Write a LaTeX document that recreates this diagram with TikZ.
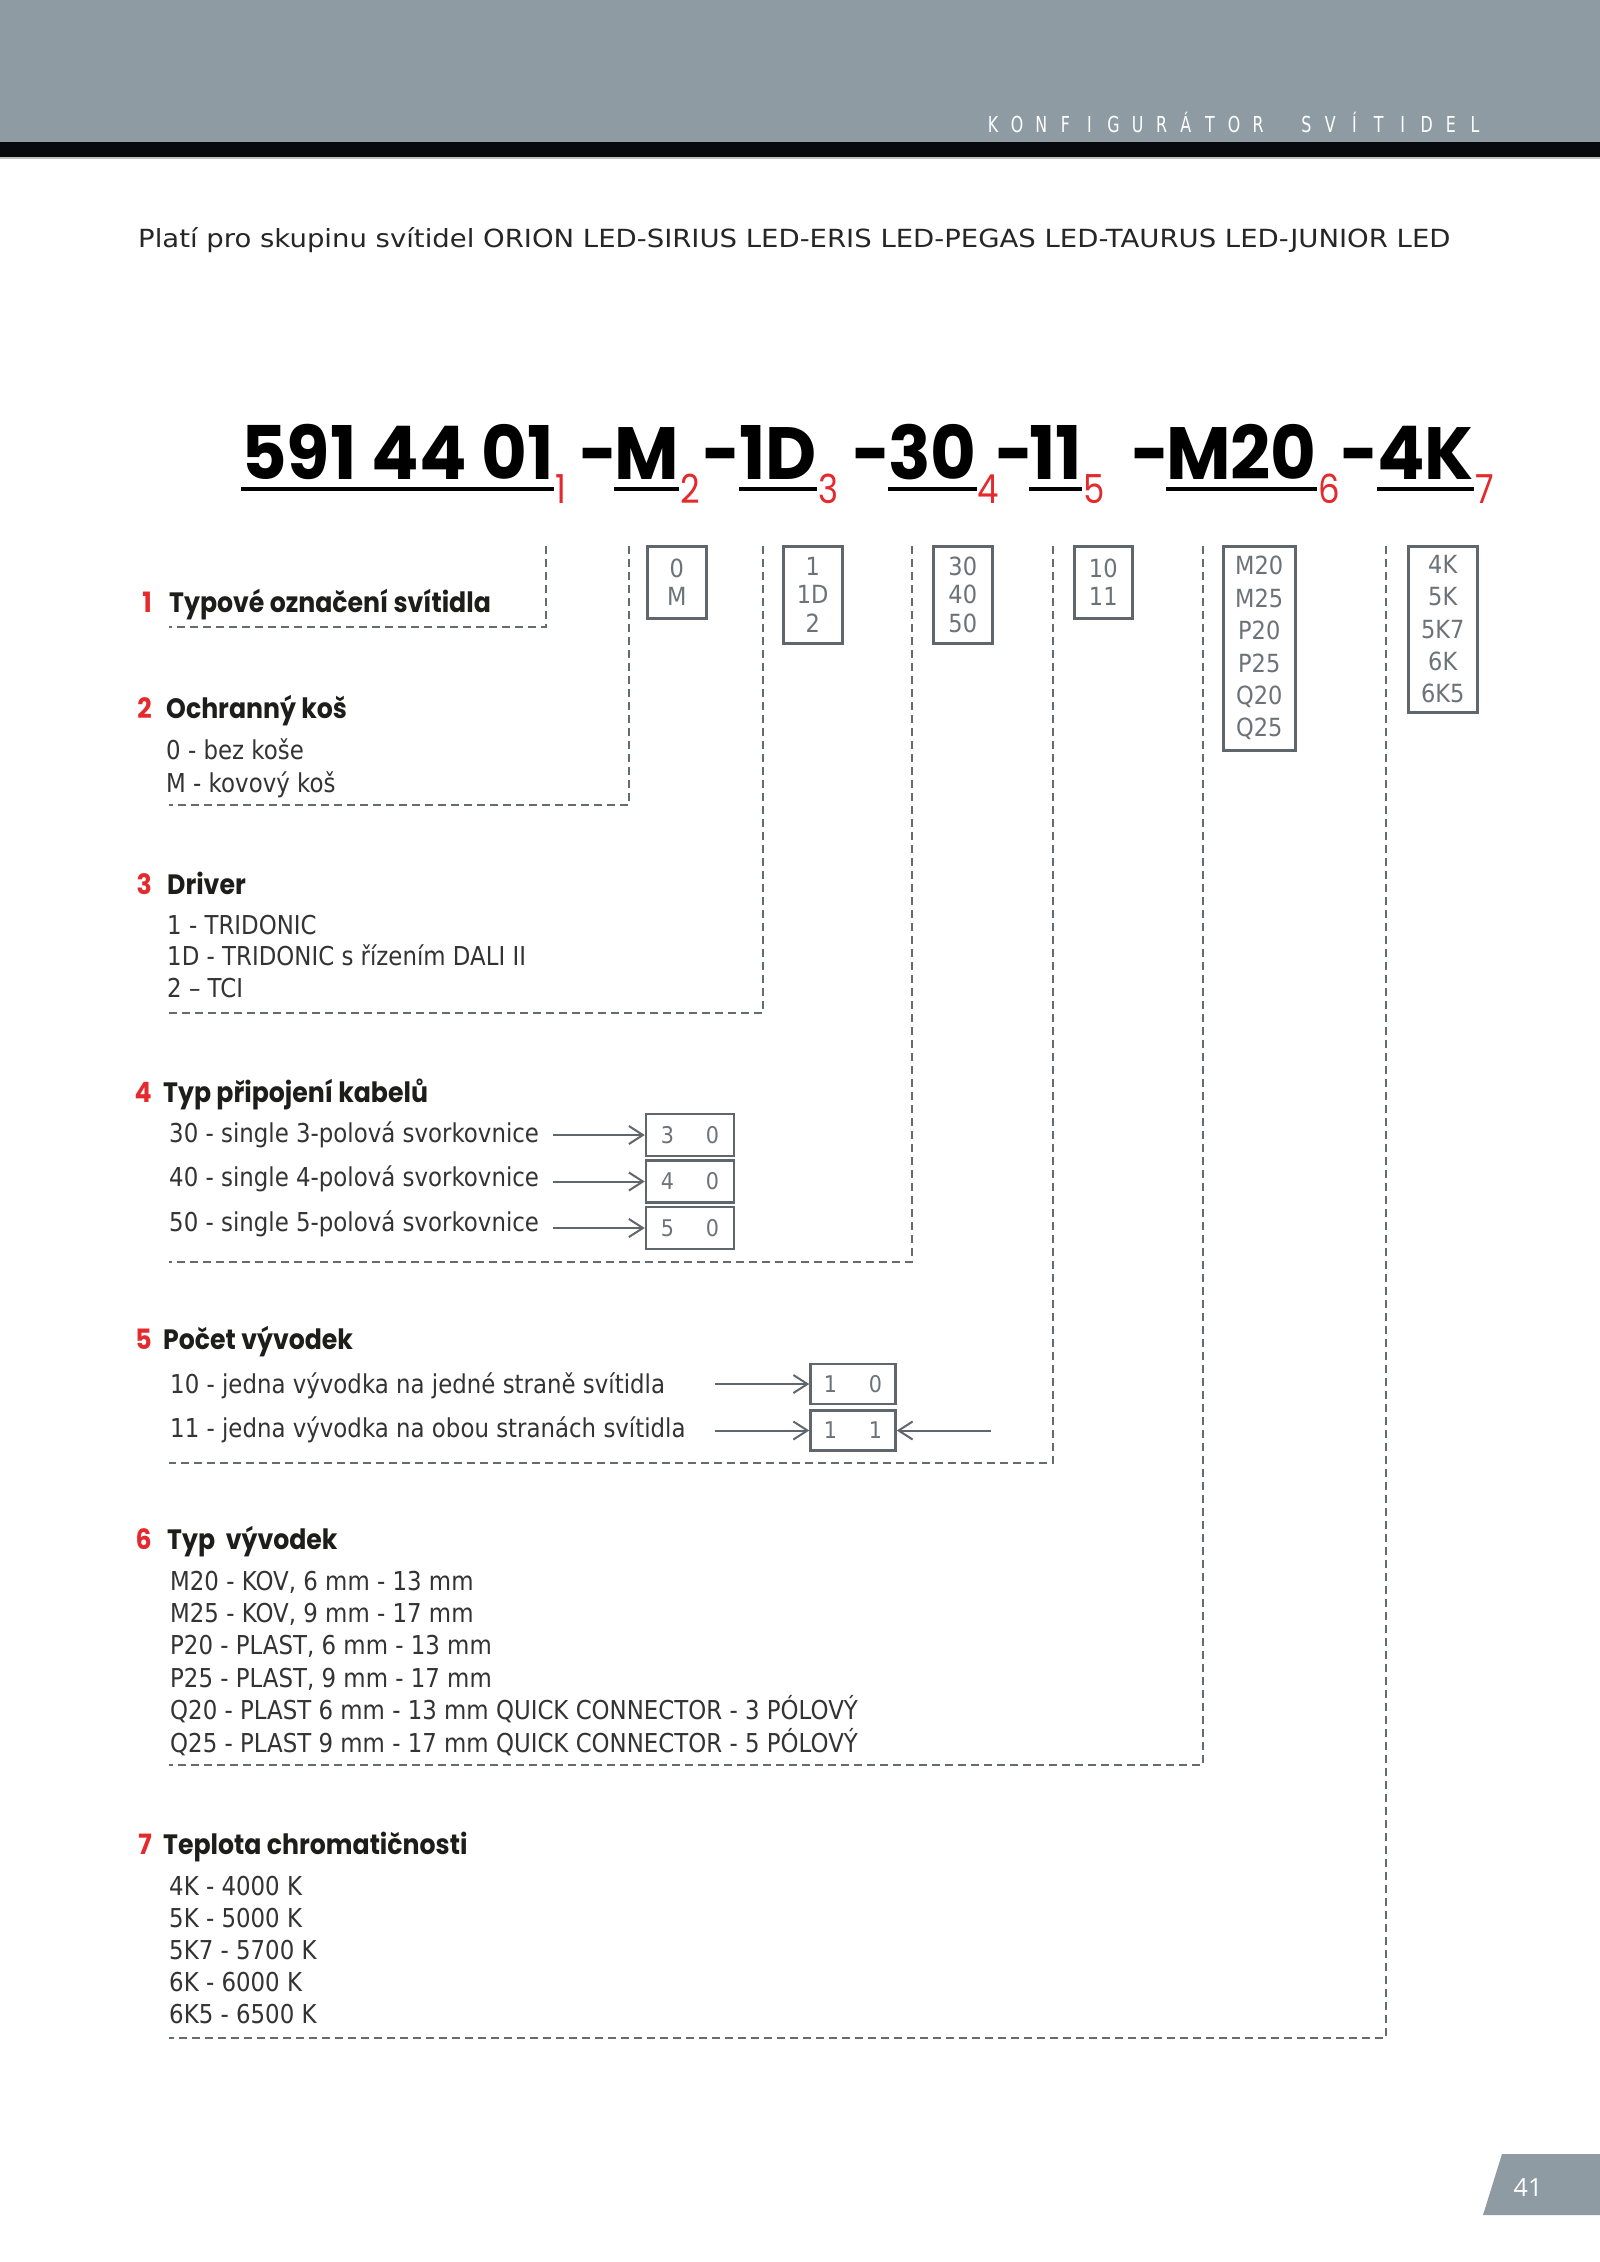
\documentclass[tikz,border=0pt]{standalone}
\usepackage{fontspec}
\setmainfont[FakeStretch=0.88]{DejaVu Sans}
\newfontfamily\bodyfont[FakeStretch=0.88]{DejaVu Sans}
\newfontfamily\valfont[FakeStretch=0.9]{DejaVu Sans}
\newfontfamily\titlefont[FakeStretch=1.1]{DejaVu Sans}
\newfontfamily\headfont[FakeStretch=0.9]{Poppins}
\newfontfamily\codefont[FakeStretch=0.95]{Poppins}
\newfontfamily\dashfont[FakeStretch=0.7]{Poppins}
\newfontfamily\subfont[FakeStretch=0.85]{Poppins}
\newfontfamily\capsfont[FakeStretch=0.72]{DejaVu Sans}
\newfontfamily\pagefont{Open Sans}
\usetikzlibrary{positioning,arrows.meta}

\definecolor{bandgrey}{HTML}{8E9BA3}
\definecolor{barblack}{HTML}{08090D}
\definecolor{guidegrey}{HTML}{646B71}
\definecolor{boxgrey}{HTML}{5F666C}
\definecolor{valgrey}{HTML}{6B7379}
\definecolor{itemgrey}{HTML}{333333}
\definecolor{headblack}{HTML}{1D1D1B}
\definecolor{codered}{HTML}{E52A2E}

\begin{document}
\begin{tikzpicture}[x=1pt, y=-1pt,
    head/.style={anchor=base west, inner sep=0pt, text=headblack,
      font=\headfont\bfseries\fontsize{28}{32}\selectfont},
    num/.style={anchor=base east, inner sep=0pt, text=codered,
      font=\headfont\bfseries\fontsize{28}{32}\selectfont},
    item/.style={anchor=base west, inner sep=0pt, text=itemgrey,
      font=\bodyfont\fontsize{26}{30}\selectfont},
    code/.style={anchor=base west, inner sep=0pt, text=black,
      font=\codefont\bfseries\fontsize{74}{80}\selectfont},
    codedash/.style={anchor=base, inner sep=0pt, text=black,
      font=\dashfont\bfseries\fontsize{74}{80}\selectfont},
    sub/.style={anchor=base west, inner sep=0pt, text=codered,
      font=\subfont\fontsize{40}{44}\selectfont},
    uline/.style={line width=4.5pt, black},
    guide/.style={guidegrey, line width=2pt, dash pattern=on 8pt off 5pt},
    valbox/.style={draw=boxgrey, line width=2.5pt, anchor=north west, align=center,
      inner sep=0pt, text=valgrey, font=\valfont\fontsize{25}{28.5}\selectfont},
    cell/.style={draw=boxgrey, line width=2.5pt, minimum width=88pt, minimum height=42pt,
      inner sep=0pt, text=valgrey, font=\valfont\fontsize{23}{26}\selectfont},
    arr/.style={boxgrey, line width=2pt, -{Straight Barb[length=14pt, width=18pt]}},
  ]
  \useasboundingbox (0,0) rectangle (1600,2262);
  \fill[white] (0,0) rectangle (1600,2262);

  % header band
  \fill[bandgrey] (0,0) rectangle (1600,142);
  \fill[barblack] (0,142) rectangle (1600,157);
  \draw[black!25, line width=1.5pt] (0,158) -- (1600,158);
  \foreach \ch [count=\i from 0] in {K,O,N,F,I,G,U,R,Á,T,O,R,{},S,V,Í,T,I,D,E,L}
    \node[anchor=base, inner sep=0pt, text=white, font=\capsfont\fontsize{22}{24}\selectfont]
      (k\i) at ({993+24.1*\i},132) {\ch};

  \node[anchor=base west, inner sep=0pt, text=black!85, font=\titlefont\fontsize{25}{28}\selectfont]
    (title) at (138,247)
    {Platí pro skupinu svítidel ORION LED-SIRIUS LED-ERIS LED-PEGAS LED-TAURUS LED-JUNIOR LED};

  % code line
  \node[code] (c1) at (241,479) {591 44 01};
  \node[code] (c2) at (614,479) {M};
  \node[code] (c3) at (739,479) {1D};
  \node[code] (c4) at (888,479) {30};
  \node[code] (c5) at (1029,479) {11};
  \node[code] (c6) at (1166,479) {M20};
  \node[code] (c7) at (1377,479) {4K};
  \foreach \x [count=\i from 2] in {597,720,870,1013,1149,1358}
    \node[codedash] (d\i) at (\x,479) {–};
  \foreach \i in {1,...,7} {
    \draw[uline] ([yshift=-10pt]c\i.base west) -- ([yshift=-10pt]c\i.base east);
    \node[sub] (s\i) at ([shift={(1,24)}]c\i.base east) {\i};
  }

  % guide lines down to the sections
  \foreach \i/\x/\y in {1/546/627, 2/629/805, 3/763/1013, 4/912/1262,
                        5/1053/1463, 6/1203/1765, 7/1386/2038} {
    \coordinate (t\i) at (\x,546);
    \coordinate (e\i) at (169,\y);
    \draw[guide] (t\i) |- (e\i);
  }

  % value boxes
  \node[valbox, minimum width=59pt, minimum height=72pt] (v2) at (646,545) {0\\M};
  \node[valbox, minimum width=59pt, minimum height=97pt] (v3) at (782,545) {1\\1D\\2};
  \node[valbox, minimum width=59pt, minimum height=97pt] (v4) at (932,545) {30\\40\\50};
  \node[valbox, minimum width=58pt, minimum height=72pt] (v5) at (1073,545) {10\\11};
  \node[valbox, minimum width=72pt, minimum height=204pt,
    font=\valfont\fontsize{25}{32.4}\selectfont] (v6) at (1222,545)
    {M20\\M25\\P20\\P25\\Q20\\Q25};
  \node[valbox, minimum width=69pt, minimum height=166pt,
    font=\valfont\fontsize{25}{32.4}\selectfont] (v7) at (1407,545)
    {4K\\5K\\5K7\\6K\\6K5};

  % 1 type
  \node[head] (h1) at (169,612) {Typové označení svítidla};
  \node[num] (n1) at (152,612) {1};

  % 2 guard
  \node[head] (h2) at (166,718) {Ochranný koš};
  \node[num] (n2) at (152,718) {2};
  \node[item] (i2a) at (166,759) {0 - bez koše};
  \node[item] (i2b) at (166,792) {M - kovový koš};

  % 3 driver
  \node[head] (h3) at (167,894) {Driver};
  \node[num] (n3) at (152,894) {3};
  \foreach \t [count=\i] in {1 - TRIDONIC, 1D - TRIDONIC s řízením DALI II, 2 – TCI}
    \node[item] (i3\i) at (167,{934+31.5*(\i-1)}) {\t};

  % 4 cable connection
  \node[head] (h4) at (163,1102) {Typ připojení kabelů};
  \node[num] (n4) at (152,1102) {4};
  \node[item] (i30) at (169,1142) {30 - single 3-polová svorkovnice};
  \node[item] (i40) at (169,1186) {40 - single 4-polová svorkovnice};
  \node[item] (i50) at (169,1231) {50 - single 5-polová svorkovnice};
  \node[cell] (b30) at (690,1135) {3\hspace{32pt}0};
  \node[cell, below=2pt of b30] (b40) {4\hspace{32pt}0};
  \node[cell, below=2pt of b40] (b50) {5\hspace{32pt}0};
  \foreach \b in {30,40,50} {
    \coordinate (a\b) at ([xshift=-92pt]b\b.west);
    \draw[arr] (a\b) -- (b\b.west);
  }

  % 5 number of leads
  \node[head] (h5) at (163,1349) {Počet vývodek};
  \node[num] (n5) at (152,1349) {5};
  \node[item] (i10) at (170,1393) {10 - jedna vývodka na jedné straně svítidla};
  \node[item] (i11) at (170,1437) {11 - jedna vývodka na obou stranách svítidla};
  \node[cell, minimum width=85pt, minimum height=40pt] (b10) at (853,1384) {1\hspace{32pt}0};
  \node[cell, minimum width=85pt, minimum height=40pt, below=4pt of b10] (b11) {1\hspace{32pt}1};
  \coordinate (a10) at ([xshift=-94pt]b10.west);
  \coordinate (a11) at ([xshift=-94pt]b11.west);
  \coordinate (r11) at ([xshift=94pt]b11.east);
  \draw[arr] (a10) -- (b10.west);
  \draw[arr] (a11) -- (b11.west);
  \draw[arr] (r11) -- (b11.east);

  % 6 lead type
  \node[head] (h6) at (167,1549) {Typ~~vývodek};
  \node[num] (n6) at (152,1549) {6};
  \foreach \t [count=\i] in {{M20 - KOV, 6 mm - 13 mm}, {M25 - KOV, 9 mm - 17 mm},
      {P20 - PLAST, 6 mm - 13 mm}, {P25 - PLAST, 9 mm - 17 mm},
      {Q20 - PLAST 6 mm - 13 mm QUICK CONNECTOR - 3 PÓLOVÝ},
      {Q25 - PLAST 9 mm - 17 mm QUICK CONNECTOR - 5 PÓLOVÝ}}
    \node[item] (i6\i) at (170,{1590+32.4*(\i-1)}) {\t};

  % 7 colour temperature
  \node[head] (h7) at (163,1854) {Teplota chromatičnosti};
  \node[num] (n7) at (152,1854) {7};
  \foreach \t [count=\i] in {4K - 4000 K, 5K - 5000 K, 5K7 - 5700 K, 6K - 6000 K, 6K5 - 6500 K}
    \node[item] (i7\i) at (169,{1895+32*(\i-1)}) {\t};

  % page tab
  \fill[bandgrey] (1502,2154) -- (1600,2154) -- (1600,2215) -- (1483,2215) -- cycle;
  \node[inner sep=0pt, text=white, font=\pagefont\fontsize{25}{28}\selectfont] (pg) at (1528,2187) {41};
\end{tikzpicture}
\end{document}
